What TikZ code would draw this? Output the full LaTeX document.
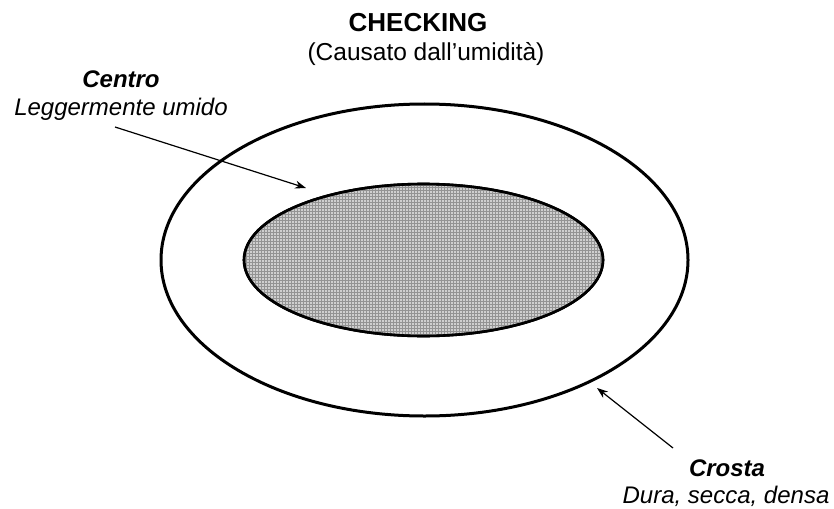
\documentclass[tikz,border=0pt]{standalone}
\usepackage{fontspec}
\setmainfont{Liberation Sans}
\usetikzlibrary{shapes.geometric,arrows.meta,patterns}
\begin{document}
\begin{tikzpicture}[x=1pt,y=-1pt,
  lbl/.style={font=\fontsize{24}{27}\selectfont, align=center, inner sep=0pt},
  ttl/.style={font=\fontsize{26}{29}\selectfont\bfseries, inner sep=0pt},
  pointer/.style={line width=1.2pt, -{Stealth[length=11pt,width=8pt]}},
  ring/.style={ellipse, draw, line width=3pt, inner sep=0pt}]
\useasboundingbox (0,0) rectangle (834,508);
% outer crust
\node[ring, minimum width=527, minimum height=312] (outer) at (424.5,260) {};
% inner core
\node[ring, line width=2.6pt, fill=gray!38, minimum width=359, minimum height=152] (inner) at (423.5,260) {};
\fill[pattern=grid, pattern color=gray!85] (423.5,260) ellipse [x radius=178, y radius=74.5];
\node[ring, line width=2.6pt, minimum width=359, minimum height=152] (innerb) at (423.5,260) {};
% titles
\node[ttl, anchor=base] (title) at (418,32) {CHECKING};
\node[lbl, font=\fontsize{24.5}{27}\selectfont, anchor=base] (sub) at (426,61) {(Causato dall’umidità)};
% labels
\node[lbl, anchor=base] (centro) at (121,88) {\bfseries\itshape Centro};
\node[lbl, anchor=base] (centrod) at (121,115) {\itshape Leggermente umido};
\node[lbl, anchor=base] (crosta) at (727,476) {\bfseries\itshape Crosta};
\node[lbl, anchor=base] (crostad) at (726,503) {\itshape Dura, secca, densa};
% arrows
\coordinate (a1s) at (115,127);
\coordinate (a1e) at (306,188);
\coordinate (a2s) at (673,448);
\coordinate (a2e) at (597,388);
\draw[pointer] (a1s) -- (a1e);
\draw[pointer] (a2s) -- (a2e);
\end{tikzpicture}
\end{document}
